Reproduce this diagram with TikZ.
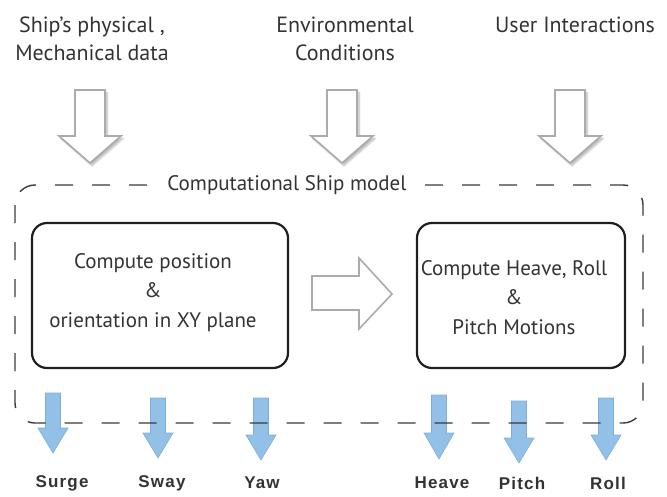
\documentclass[tikz,border=0pt]{standalone}
\usepackage{fontspec}
\setmainfont{PT Sans}
\newfontfamily\labfont[LetterSpace=7]{Liberation Sans}
\usetikzlibrary{shadows.blur}
\definecolor{txtgray}{HTML}{333333}
\definecolor{arrowgray}{HTML}{ABABAB}
\definecolor{blueA}{HTML}{92C0E6}
\definecolor{blueE}{HTML}{7FAEDA}
\definecolor{dashgray}{HTML}{3A3A3A}
% style, cx, top, headtop, tip, halfshaft, halfhead
\newcommand\downblock[7]{%
  \draw[#1] ({#2-#6},#3) -- ({#2+#6},#3) -- ({#2+#6},#4) -- ({#2+#7},#4) -- (#2,#5) -- ({#2-#7},#4) -- ({#2-#6},#4) -- cycle;}
\tikzset{
  toptext/.style={text=txtgray, align=center, font=\fontsize{22}{28}\selectfont},
  boxtext/.style={text=txtgray, align=center, font=\fontsize{21}{29.5}\selectfont},
  procbox/.style={draw=black!88, line width=2.2pt, rounded corners=15pt, inner sep=0pt},
  hollow/.style={fill=white, draw=arrowgray, line width=1.6pt, line join=miter,
    blur shadow={shadow blur steps=8, shadow xshift=2pt, shadow yshift=-2.5pt, shadow opacity=30}},
  hollowflat/.style={fill=white, draw=arrowgray, line width=1.6pt, line join=miter},
  bluearrow/.style={fill=blueA, draw=blueE, line width=0.6pt},
  outlbl/.style={text=txtgray, font=\labfont\bfseries\fontsize{17}{20}\selectfont},
  container/.style={draw=dashgray, line width=1.4pt, dash pattern=on 18pt off 19pt, rounded corners=20pt}
}
\begin{document}
\begin{tikzpicture}[x=1pt, y=-1pt]
\useasboundingbox (0,0) rectangle (667,496);
% input texts
\node[toptext] (ship) at (92,39) {Ship’s physical ,\\Mechanical data};
\node[toptext] (env) at (345,39) {Environmental\\Conditions};
\node[toptext] (user) at (575,25) {User Interactions};
% hollow input arrows
\downblock{hollow}{90}{90}{136}{163}{15}{31}
\downblock{hollow}{342}{90}{136}{163}{15}{31}
\downblock{hollow}{570}{90}{136}{163}{15}{31}
% process boxes
\node[procbox, minimum width=256pt, minimum height=145pt] (posbox) at (160,295.5) {};
\node[procbox, minimum width=208pt, minimum height=145pt] (motbox) at (521,295.5) {};
\node[boxtext] (postext) at (153,292.5) {Compute position\\\&\\orientation in XY plane};
\node[boxtext] (mottext) at (514,297.5) {Compute Heave, Roll\\\&\\Pitch Motions};
% middle hollow arrow
\draw[hollowflat] (312,276) -- (359,276) -- (359,258) -- (392,294) -- (359,329) -- (359,310) -- (312,310) -- cycle;
% output arrows
\downblock{bluearrow}{53}{393}{428}{453}{7.5}{15}
\downblock{bluearrow}{158}{398}{433}{458}{7.5}{15}
\downblock{bluearrow}{261}{398}{435}{460}{7.5}{15}
\downblock{bluearrow}{439}{395}{433}{459}{7.5}{15}
\downblock{bluearrow}{519}{401}{438}{463}{7.5}{15}
\downblock{bluearrow}{606}{398}{435}{460}{7.5}{15}
% container
\draw[container] (15,185) rectangle (643,423);
\node[fill=white, inner xsep=8pt, inner ysep=2pt, text=txtgray, font=\fontsize{21}{24}\selectfont] (model) at (287,185) {Computational Ship model};
% output labels
\node[outlbl] (surge) at (62,483) {Surge};
\node[outlbl] (sway) at (162,483) {Sway};
\node[outlbl] (yaw) at (262,483) {Yaw};
\node[outlbl] (heave) at (442,483) {Heave};
\node[outlbl] (pitch) at (522,483) {Pitch};
\node[outlbl] (roll) at (608,483) {Roll};
\end{tikzpicture}
\end{document}
